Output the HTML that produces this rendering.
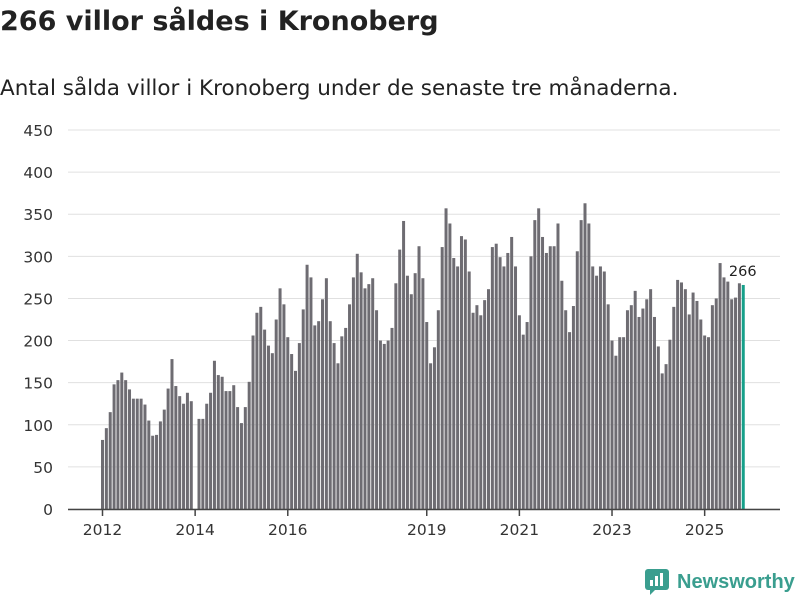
<!DOCTYPE html>
<html><head><meta charset="utf-8">
<style>
body{margin:0;background:#fff;width:800px;height:600px;overflow:hidden;font-family:"DejaVu Sans","Liberation Sans",sans-serif;}
#title{position:absolute;left:0;top:6px;font-size:27px;font-weight:bold;color:#222;margin:0;white-space:nowrap}
#sub{position:absolute;left:0;top:76px;font-size:21.5px;color:#222;white-space:nowrap}
svg{position:absolute;left:0;top:0}
</style></head><body>
<h1 id="title">266 villor såldes i Kronoberg</h1>
<div id="sub">Antal sålda villor i Kronoberg under de senaste tre månaderna.</div>
<svg id="chart" width="800" height="600"></svg>
<script>
const values=[82,96,115,148,153,162,153,142,131,131,131,124,105,87,88,104,118,143,178,146,134,125,138,128,
0,107,107,125,138,176,159,157,140,140,147,121,102,121,151,206,233,240,213,194,185,225,262,243,
204,184,164,197,237,290,275,218,223,249,274,223,197,173,205,215,243,275,303,281,262,267,274,236,
200,196,200,215,268,308,342,277,255,280,312,274,222,173,192,236,311,357,339,298,288,324,320,282,
233,242,230,248,261,311,315,299,288,304,323,288,230,207,222,300,343,357,323,304,312,312,339,271,
236,210,241,306,343,363,339,288,277,288,282,243,200,182,204,204,236,242,259,228,238,249,261,228,
193,161,172,201,240,272,269,261,231,257,247,225,206,204,242,250,292,275,270,249,251,268,266];
const yTicks=[0,50,100,150,200,250,300,350,400,450];
const xTickYears=[2012,2014,2016,2019,2021,2023,2025];
const startYear=2012;
const NS='http://www.w3.org/2000/svg';
const svg=document.getElementById('chart');
const y=v=>509-v*(379/450);
const x=i=>101+3.86*i;
function mk(t,a){const e=document.createElementNS(NS,t);for(const k in a)e.setAttribute(k,a[k]);svg.appendChild(e);return e;}
yTicks.forEach(t=>{
  const g=mk('line',{x1:68,x2:780,y1:y(t),y2:y(t),stroke:'#e0e0e0','stroke-width':1});
  
  
  const l=mk('text',{x:53,y:y(t)+6,'text-anchor':'end','font-size':15.5,fill:'#333'});
  l.textContent=t;
  
  
});
values.forEach((v,i)=>{
  const last=i===values.length-1;
  const r=mk('rect',{x:x(i),y:y(v),width:3,height:509-y(v),fill:last?'#16a08a':'#6e6c72'});
  
  
});
const lv=values[values.length-1];
const vl=mk('text',{x:x(values.length-1)+1,y:y(lv)-9,'text-anchor':'middle','font-size':14.5,fill:'#222'});
vl.textContent=lv;


const ax=mk('line',{x1:68,x2:780,y1:509.5,y2:509.5,stroke:'#444','stroke-width':1.5});


xTickYears.forEach(yr=>{
  const cx=x((yr-startYear)*12)+1.5;
  const t=mk('line',{x1:cx,x2:cx,y1:509,y2:516,stroke:'#444','stroke-width':1.5});
  
  
  const l=mk('text',{x:cx,y:535,'text-anchor':'middle','font-size':15.5,fill:'#333'});
  l.textContent=yr;
  
  
});
</script>
<div style="position:absolute;left:645px;top:569px;display:flex;align-items:center;">
<svg width="24" height="26" style="position:static"><rect x="0" y="0" width="24" height="21" rx="3" fill="#3a9e8f"/><path d="M5 21 L5 26 L10 21Z" fill="#3a9e8f"/><rect x="5" y="11" width="3" height="6" fill="#fff"/><rect x="10" y="7" width="3" height="10" fill="#fff"/><rect x="15" y="4" width="3" height="13" fill="#fff"/></svg>
<span style="font-family:'Liberation Sans',sans-serif;font-size:20px;font-weight:bold;color:#3a9e8f;margin-left:8px">Newsworthy</span>
</div>
</body></html>
